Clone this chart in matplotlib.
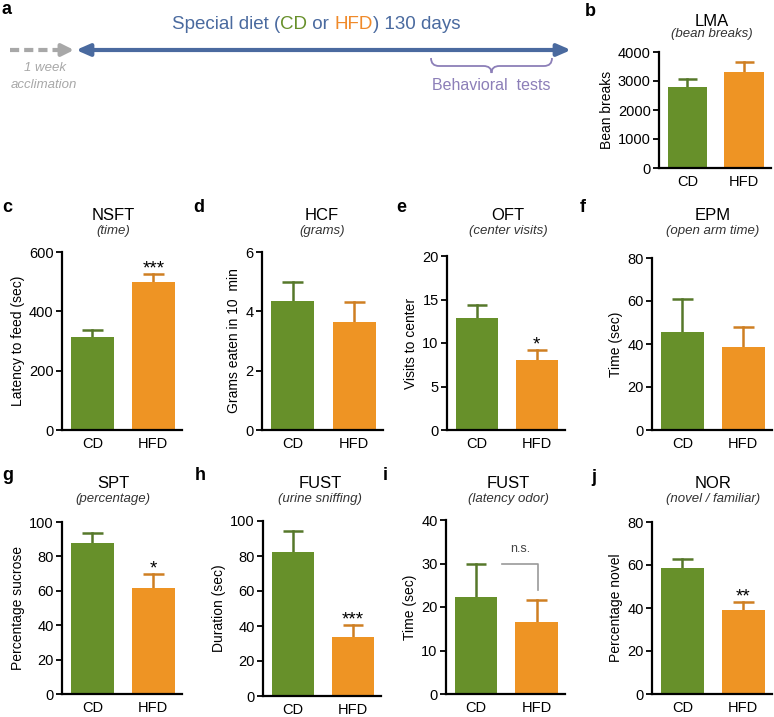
import matplotlib
matplotlib.use("Agg")
import matplotlib.pyplot as plt
from matplotlib.path import Path
from matplotlib.patches import PathPatch

plt.rcParams["font.family"] = ["Liberation Sans", "DejaVu Sans"]

# figure size in pixels
W, H = 774, 717

# ---- data ----
letters = ["b", "c", "d", "e", "f", "g", "h", "i", "j"]
tests = ["LMA", "NSFT", "HCF", "OFT", "EPM", "SPT", "FUST", "FUST", "NOR"]
measures = ["(bean breaks)", "(time)", "(grams)", "(center visits)", "(open arm time)",
            "(percentage)", "(urine sniffing)", "(latency odor)", "(novel / familiar)"]
ylabels = ["Bean breaks", "Latency to feed (sec)", "Grams eaten in 10  min", "Visits to center",
           "Time (sec)", "Percentage sucrose", "Duration (sec)", "Time (sec)", "Percentage novel"]
groups = ["CD", "HFD"]
cd_mean = [2780, 312, 4.34, 12.85, 45.8, 87.8, 82.5, 22.2, 58.8]
cd_sem = [280, 26, 0.64, 1.55, 15.1, 5.8, 11.8, 7.8, 4.0]
hfd_mean = [3300, 499, 3.64, 8.05, 38.4, 61.6, 34.0, 16.5, 39.3]
hfd_sem = [350, 28, 0.66, 1.15, 9.6, 8.3, 6.4, 5.0, 3.3]
stars = ["", "***", "", "*", "", "*", "***", "", "**"]
ymax = [4000, 600, 6, 20, 80, 100, 100, 40, 80]
ystep = [1000, 200, 2, 5, 20, 20, 20, 10, 20]

# colors
green, orange = "#67902a", "#ee9424"
green_err, orange_err = "#56782a", "#cf7f22"
blue, gray, purple = "#4a6a9f", "#a8a8a8", "#8c7fb8"

# ---- layout (pixels): axes left, right, top, bottom ----
rects = [(659, 771, 52, 168), (62, 182, 252, 430), (262, 383, 252, 430),
         (447, 565, 256, 430), (652, 772, 258, 430), (62, 182, 522, 694),
         (263, 381, 521, 696), (446, 565, 520, 694), (652, 772, 522, 694)]
title_pos = [(712, 22, 34), (113, 216, 231), (322, 216, 231), (508, 216, 231),
             (713, 216, 231), (113, 484, 499), (320, 484, 499), (508, 484, 499),
             (713, 484, 499)]
letter_pos = [(585, 12), (2, 208), (193, 208), (396, 208), (580, 208),
              (2, 476), (195, 476), (383, 476), (591, 478)]

fig = plt.figure(figsize=(W / 100, H / 100), dpi=100)

# overlay axes in pixel coordinates for panel a and the panel labels
ov = fig.add_axes([0, 0, 1, 1], zorder=-1)
ov.set_xlim(0, W)
ov.set_ylim(H, 0)
ov.axis("off")

# ---- panel a: timeline ----
ov.text(2, 10, "a", fontsize=13, fontweight="bold", ha="left", va="center")
ov.plot([10, 64], [50, 50], color=gray, lw=3, ls=(0, (2.2, 1.2)), solid_capstyle="butt")
ov.annotate("", xy=(74, 50), xytext=(62, 50),
            arrowprops=dict(arrowstyle="-|>,head_width=0.35,head_length=0.7",
                            color=gray, lw=3, shrinkA=0, shrinkB=0))
ov.annotate("", xy=(571, 50), xytext=(76, 50),
            arrowprops=dict(arrowstyle="<|-|>,head_width=0.35,head_length=0.8",
                            color=blue, lw=3, shrinkA=0, shrinkB=0))

# multi-coloured headline
parts = [("Special diet (", blue), ("CD", green), (" or ", blue), ("HFD", "#f08a2a"),
         (") 130 days", blue)]
t = ov.text(172, 33, parts[0][0], color=parts[0][1], fontsize=13.5, va="bottom", ha="left")
for s, c in parts[1:]:
    t = ov.annotate(s, xycoords=t, xy=(1, 0), va="bottom", ha="left", color=c, fontsize=13.5)

ov.text(45, 68, "1 week", color=gray, fontsize=9.5, style="italic", ha="center", va="center")
ov.text(44, 85, "acclimation", color=gray, fontsize=9.5, style="italic", ha="center", va="center")

# curly brace
x0, x1, ytop, ymid, ytip = 431, 552, 58, 66, 73
xm = (x0 + x1) / 2
verts = [(x0, ytop), (x0, ymid), (x0 + 8, ymid), (xm - 8, ymid), (xm, ymid), (xm, ytip),
         (xm, ymid), (xm + 8, ymid), (x1 - 8, ymid), (x1, ymid), (x1, ytop)]
codes = [Path.MOVETO, Path.CURVE3, Path.CURVE3, Path.LINETO, Path.CURVE3, Path.CURVE3,
         Path.CURVE3, Path.CURVE3, Path.LINETO, Path.CURVE3, Path.CURVE3]
ov.add_patch(PathPatch(Path(verts, codes), fill=False, color=purple, lw=1.3))
ov.text(491, 86, "Behavioral  tests", color=purple, fontsize=11.5, ha="center", va="center")

# ---- bar panels ----
for k in range(len(letters)):
    l, r, tp, bt = rects[k]
    ax = fig.add_axes([l / W, 1 - bt / H, (r - l) / W, (bt - tp) / H])

    means = [cd_mean[k], hfd_mean[k]]
    sems = [cd_sem[k], hfd_sem[k]]
    ax.bar([0, 1], means, width=0.7, color=[green, orange], zorder=2)
    # upper error bars only, no cap at the bar top
    for x, m, s, ec in zip([0, 1], means, sems, [green_err, orange_err]):
        ax.plot([x, x], [m, m + s], color=ec, lw=1.8, zorder=1)
        ax.plot([x - 0.17, x + 0.17], [m + s, m + s], color=ec, lw=1.8, zorder=1,
                solid_capstyle="butt")

    if stars[k]:
        top = hfd_mean[k] + hfd_sem[k]
        ax.text(1, top + 0.003 * ymax[k], stars[k], ha="center", va="baseline",
                fontsize=13.5, clip_on=False)

    ax.set_xlim(-0.5, 1.47)
    ax.set_ylim(0, ymax[k])
    ax.set_yticks(range(0, ymax[k] + 1, ystep[k]))
    ax.set_xticks([0, 1])
    ax.set_xticklabels(groups)
    ax.set_ylabel(ylabels[k], fontsize=10, labelpad=3)
    ax.tick_params(axis="y", length=4, width=1.3, labelsize=10.5, pad=2)
    ax.tick_params(axis="x", length=0, labelsize=10.5, pad=5)
    for side in ["top", "right"]:
        ax.spines[side].set_visible(False)
    for side in ["left", "bottom"]:
        ax.spines[side].set_linewidth(1.6)

    # title, measure and panel letter
    cx, ty, sy = title_pos[k]
    ov.text(cx, ty, tests[k], fontsize=12, ha="center", va="center")
    ov.text(cx, sy, measures[k], fontsize=9.5, style="italic", color="#333333",
            ha="center", va="center")
    lx, ly = letter_pos[k]
    ov.text(lx, ly, letters[k], fontsize=13, fontweight="bold", ha="left", va="center")

    # n.s. bracket for the latency-odor panel
    if letters[k] == "i":
        ax.plot([0.43, 1.03, 1.03], [cd_mean[k] + cd_sem[k]] * 2 + [23.9],
                color="#999999", lw=1.2, clip_on=False)
        ax.text(0.73, 33.3, "n.s.", fontsize=9, color="#444444", ha="center", va="center")

fig.savefig("out.png", dpi=100)
